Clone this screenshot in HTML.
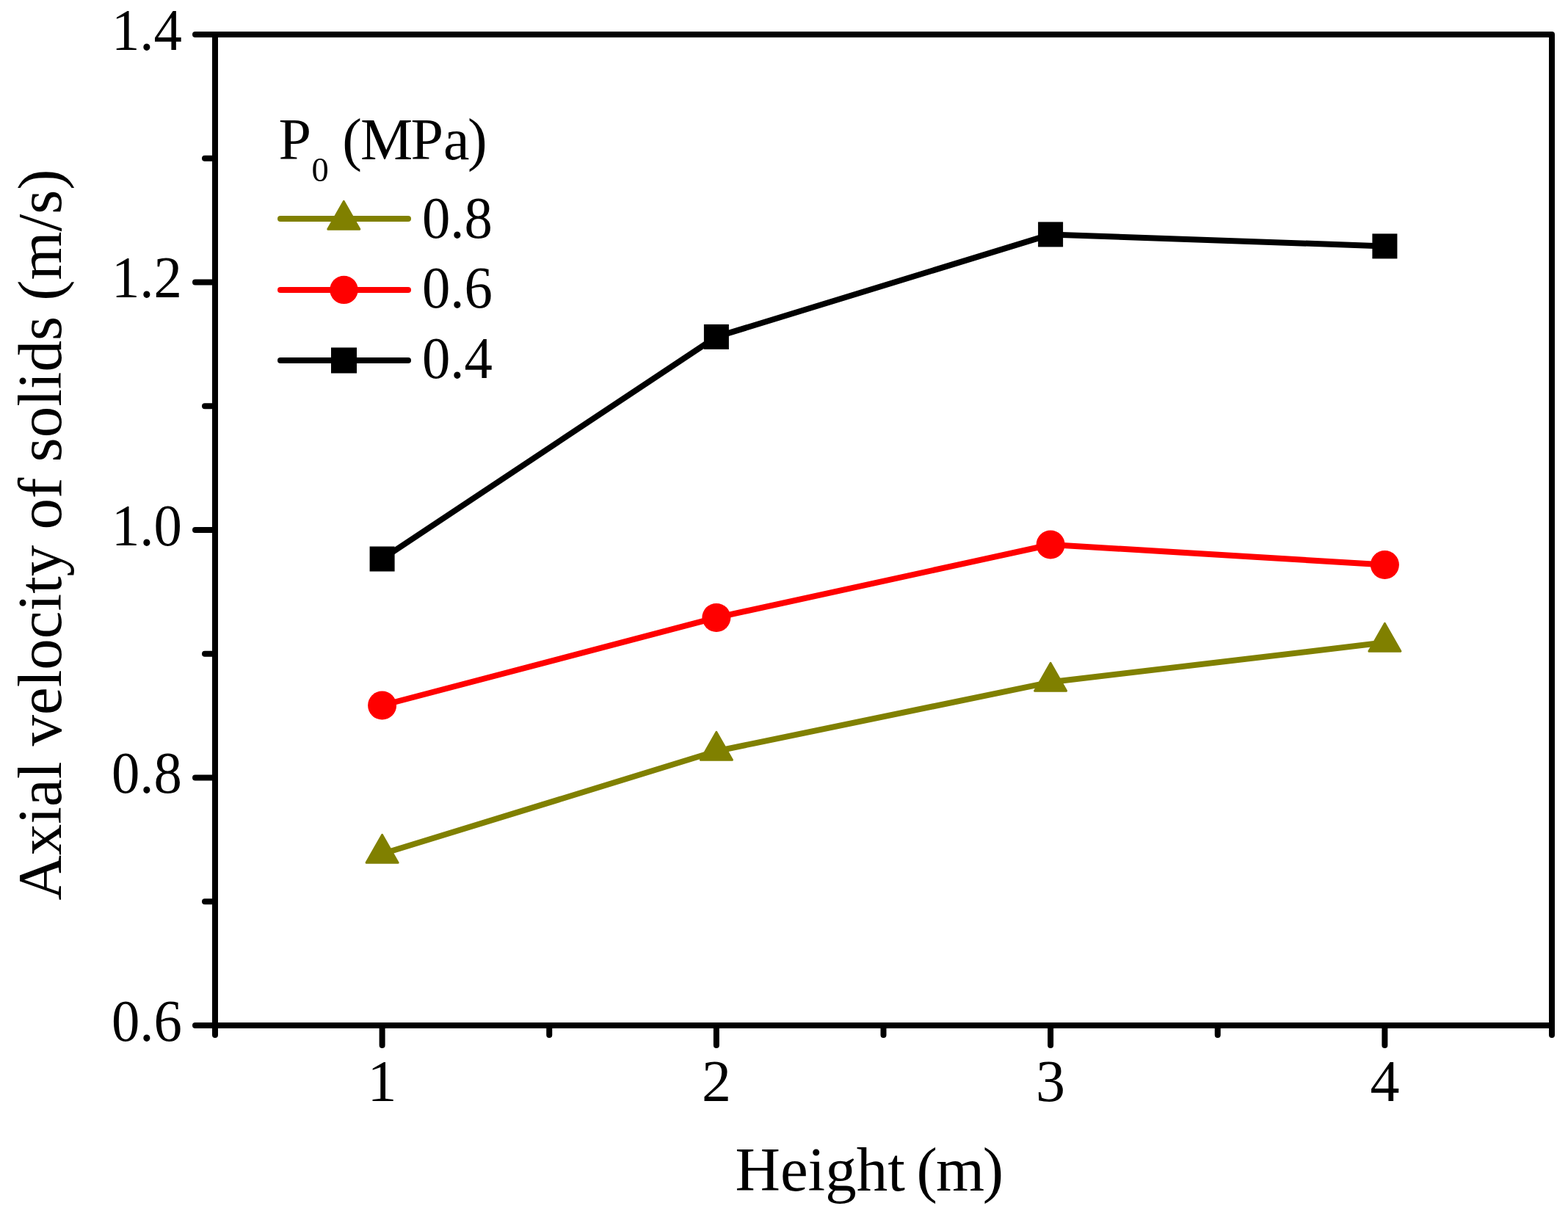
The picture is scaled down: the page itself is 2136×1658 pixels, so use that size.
<!DOCTYPE html><html><head><meta charset="utf-8"><title>Axial velocity of solids vs height</title>
<style>html,body{margin:0;padding:0;background:#fff;overflow:hidden;}svg{display:block;}text{font-family:"Liberation Serif",serif;fill:#000;}</style></head><body>
<svg width="2136" height="1658" viewBox="0 0 2136 1658">
<rect x="0" y="0" width="2136" height="1658" fill="#fff"/>
<path d="M293.0 47.0H2114.0V1397.0H293.0Z M293.0 47.00h-27 M293.0 384.50h-27 M293.0 722.00h-27 M293.0 1059.50h-27 M293.0 1397.00h-27 M293.0 215.75h-14 M293.0 553.25h-14 M293.0 890.75h-14 M293.0 1228.25h-14 M520.62 1397.0v27 M975.88 1397.0v27 M1431.12 1397.0v27 M1886.38 1397.0v27 M293.00 1397.0v13 M748.25 1397.0v13 M1203.50 1397.0v13 M1658.75 1397.0v13 M2114.00 1397.0v13" fill="none" stroke="#000" stroke-width="8" stroke-linecap="round" stroke-linejoin="round"/>
<text x="248" y="67.7" font-size="80" text-anchor="end" transform="translate(247 0) scale(0.96 1) translate(-247 0)">1.4</text>
<text x="248" y="405.2" font-size="80" text-anchor="end" transform="translate(247 0) scale(0.96 1) translate(-247 0)">1.2</text>
<text x="248" y="742.7" font-size="80" text-anchor="end" transform="translate(247 0) scale(0.96 1) translate(-247 0)">1.0</text>
<text x="248" y="1080.2" font-size="80" text-anchor="end" transform="translate(247 0) scale(0.96 1) translate(-247 0)">0.8</text>
<text x="248" y="1417.7" font-size="80" text-anchor="end" transform="translate(247 0) scale(0.96 1) translate(-247 0)">0.6</text>
<text x="520.6" y="1500" font-size="80" text-anchor="middle">1</text>
<text x="975.9" y="1500" font-size="80" text-anchor="middle">2</text>
<text x="1431.1" y="1500" font-size="80" text-anchor="middle">3</text>
<text x="1886.4" y="1500" font-size="80" text-anchor="middle">4</text>
<text x="1001.5" y="1622" font-size="85">Height<tspan x="1248.6 1275.1 1338.8" y="1622">(m)</tspan></text>
<text transform="translate(82.8 1226.6) rotate(-90)" x="0" y="0" font-size="85">Axial velocity of solids (m/s)</text>
<polyline points="520.6,761.5 975.9,458.9 1431.1,319.4 1886.4,335.4" fill="none" stroke="#000000" stroke-width="8" stroke-linejoin="round" stroke-linecap="butt"/>
<polyline points="520.6,961.0 975.9,841.4 1431.1,742.0 1886.4,769.5" fill="none" stroke="#ff0000" stroke-width="8" stroke-linejoin="round" stroke-linecap="butt"/>
<polyline points="520.6,1163.3 975.9,1023.3 1431.1,929.3 1886.4,875.3" fill="none" stroke="#808000" stroke-width="8" stroke-linejoin="round" stroke-linecap="butt"/>
<rect x="503.6" y="744.5" width="34" height="34" fill="#000000"/>
<rect x="958.9" y="441.9" width="34" height="34" fill="#000000"/>
<rect x="1414.1" y="302.4" width="34" height="34" fill="#000000"/>
<rect x="1869.4" y="318.4" width="34" height="34" fill="#000000"/>
<circle cx="520.6" cy="961.0" r="19.5" fill="#ff0000"/>
<circle cx="975.9" cy="841.4" r="19.5" fill="#ff0000"/>
<circle cx="1431.1" cy="742.0" r="19.5" fill="#ff0000"/>
<circle cx="1886.4" cy="769.5" r="19.5" fill="#ff0000"/>
<polygon points="520.6,1137.4 542.1,1175.3 499.1,1175.3" fill="#808000" stroke="#808000" stroke-width="3" stroke-linejoin="round"/>
<polygon points="975.9,997.4 997.4,1035.3 954.4,1035.3" fill="#808000" stroke="#808000" stroke-width="3" stroke-linejoin="round"/>
<polygon points="1431.1,903.4 1452.6,941.3 1409.6,941.3" fill="#808000" stroke="#808000" stroke-width="3" stroke-linejoin="round"/>
<polygon points="1886.4,849.4 1907.9,887.3 1864.9,887.3" fill="#808000" stroke="#808000" stroke-width="3" stroke-linejoin="round"/>
<text x="379.6" y="216.7" font-size="80">P<tspan font-size="46.5" x="424.4" y="247.3">0</tspan><tspan x="447.6" y="216.7"> </tspan><tspan x="466.2 491.0 559.5 604.0 637.0" y="216.7">(MPa)</tspan></text>
<line x1="382" y1="298.1" x2="556" y2="298.1" stroke="#808000" stroke-width="8" stroke-linecap="round"/>
<polygon points="468.3,274.4 489.8,312.3 446.8,312.3" fill="#808000" stroke="#808000" stroke-width="3" stroke-linejoin="round"/>
<text x="574.8" y="323.7" font-size="80" transform="translate(578 0) scale(0.96 1) translate(-578 0)">0.8</text>
<line x1="382" y1="394.9" x2="556" y2="394.9" stroke="#ff0000" stroke-width="8" stroke-linecap="round"/>
<circle cx="468.5" cy="394.9" r="19.2" fill="#ff0000"/>
<text x="574.8" y="419.1" font-size="80" transform="translate(578 0) scale(0.96 1) translate(-578 0)">0.6</text>
<line x1="382" y1="491.0" x2="556" y2="491.0" stroke="#000000" stroke-width="8" stroke-linecap="round"/>
<rect x="451.0" y="473.5" width="35" height="35" fill="#000000"/>
<text x="574.8" y="515.4" font-size="80" transform="translate(578 0) scale(0.96 1) translate(-578 0)">0.4</text>
</svg></body></html>
